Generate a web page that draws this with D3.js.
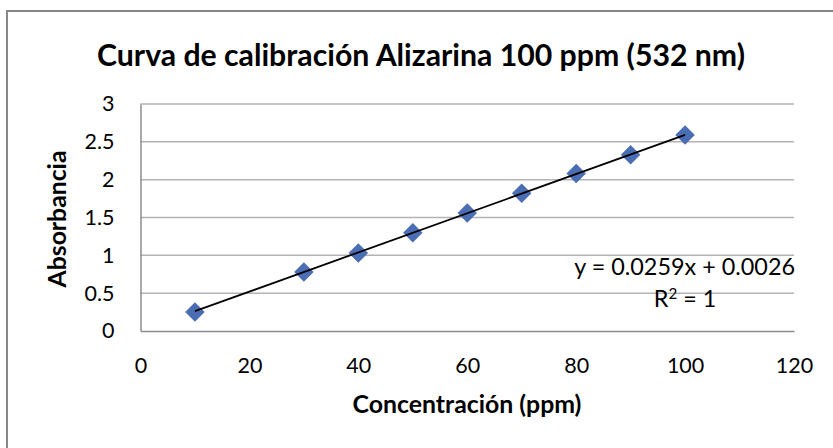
<!DOCTYPE html>
<html><head><meta charset="utf-8">
<script src="https://cdn.jsdelivr.net/npm/d3@7"></script>
<style>body{margin:0;background:#fff;}svg{display:block;font-family:Lato,"Open Sans",sans-serif;}</style>
</head><body>
<svg id="c" width="833" height="448"></svg>
<script>
const concentrations = [10, 30, 40, 50, 60, 70, 80, 90, 100];
const absorbance = [0.25, 0.78, 1.03, 1.30, 1.56, 1.82, 2.08, 2.33, 2.59];
const xTicks = [0, 20, 40, 60, 80, 100, 120];
const yTicks = [0, 0.5, 1, 1.5, 2, 2.5, 3];
const slope = 0.0259, intercept = 0.0026;
const titleText = "Curva de calibración Alizarina 100 ppm (532 nm)";
const xTitle = "Concentración (ppm)";
const yTitle = "Absorbancia";
const eqText = "y = 0.0259x + 0.0026";

const svg = d3.select("#c");
svg.append("rect").attr("x",7).attr("y",11).attr("width",900).attr("height",500)
  .attr("fill","#fff").attr("stroke","#878787").attr("stroke-width",2);

const x = d3.scaleLinear().domain([0,120]).range([140.5,794]);
const y = d3.scaleLinear().domain([0,3]).range([331,104]);

// gridlines
svg.append("g").selectAll("line").data(yTicks.filter(d=>d>0)).join("line")
  .attr("x1",x(0)).attr("x2",x(120)).attr("y1",d=>y(d)).attr("y2",d=>y(d))
  .attr("stroke","#b3b3b3").attr("stroke-width",1.5);

// axes
const xAxis = svg.append("g").attr("transform",`translate(0,${y(0)})`)
  .call(d3.axisBottom(x).tickValues(xTicks).tickSize(0).tickPadding(27).tickFormat(d3.format("d")));
const yAxis = svg.append("g").attr("transform",`translate(${x(0)},0)`)
  .call(d3.axisLeft(y).tickValues(yTicks).tickSize(0).tickPadding(26).tickFormat(d=>String(d)));
[xAxis,yAxis].forEach(g=>{
  g.select(".domain").attr("stroke","#8c8c8c").attr("stroke-width",1.5);
  g.selectAll("text").attr("font-family","Lato, sans-serif").attr("font-size",21.5).attr("fill","#000");
});

// markers (diamonds)
const sym = d3.symbol().type(d3.symbolSquare).size(190);
svg.append("g").selectAll("path").data(concentrations).join("path")
  .attr("d",sym())
  .attr("transform",(d,i)=>`translate(${x(d)},${y(absorbance[i])}) rotate(45)`)
  .attr("fill","#4a6db4");

// trendline (on top of markers)
const line = d3.line().x(d=>x(d)).y(d=>y(slope*d+intercept));
svg.append("path").datum([concentrations[0], concentrations[concentrations.length-1]])
  .attr("d",line).attr("stroke","#000").attr("stroke-width",1.8).attr("fill","none");

function fitText(sel, target){
  const w = sel.node().getComputedTextLength();
  const fs = parseFloat(sel.attr("font-size"));
  sel.attr("font-size", fs*target/w);
}

const t = svg.append("text").attr("x",421).attr("y",66).attr("text-anchor","middle")
  .attr("font-weight","bold").attr("font-size",22).text(titleText);
fitText(t, 648);

const xt = svg.append("text").attr("x",467).attr("y",413).attr("text-anchor","middle")
  .attr("font-weight","bold").attr("font-size",20).text(xTitle);
fitText(xt, 229);

const yt = svg.append("text").attr("transform","translate(66,219) rotate(-90)").attr("text-anchor","middle")
  .attr("font-weight","bold").attr("font-size",18).text(yTitle);
fitText(yt, 137);

const eq = svg.append("text").attr("x",795).attr("y",275).attr("text-anchor","end")
  .attr("font-size",18).text(eqText);
fitText(eq, 221);
const efs = parseFloat(eq.attr("font-size"));
const r2 = svg.append("text").attr("x",685).attr("y",307).attr("text-anchor","middle")
  .attr("font-size",efs);
r2.append("tspan").text("R");
r2.append("tspan").attr("dy",-8).attr("font-size",efs*0.65).text("2");
r2.append("tspan").attr("dy",8).text(" = 1");
</script>
</body></html>
